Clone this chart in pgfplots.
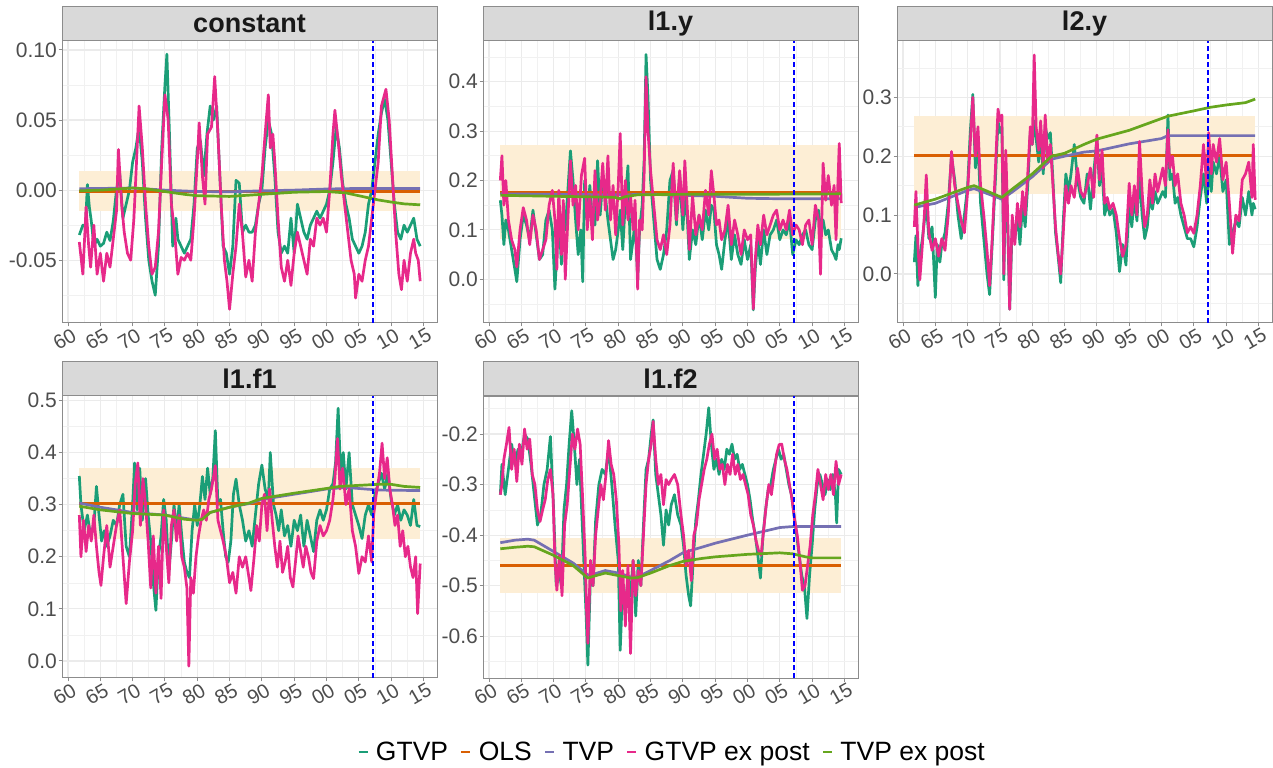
\documentclass[border=0pt]{standalone}
\usepackage{pgfplots}
\pgfplotsset{compat=1.18}
\usepackage{fontspec}
\setmainfont{Liberation Sans}
\definecolor{cG}{HTML}{1B9E77}
\definecolor{cO}{HTML}{D95F02}
\definecolor{cT}{HTML}{7570B3}
\definecolor{cP}{HTML}{E7298A}
\definecolor{cE}{HTML}{66A61E}
\definecolor{bandc}{HTML}{FDEED5}
\definecolor{gridc}{HTML}{EBEBEB}
\definecolor{borderc}{HTML}{8C8C8C}
\definecolor{ticklab}{HTML}{4D4D4D}
\definecolor{stripc}{HTML}{D9D9D9}
\pgfplotsset{
  facet/.style={
    scale only axis, width=375bp, height=282bp,
    xmin=1959.07, xmax=2017.1,
    xtick={1960,1965,1970,1975,1980,1985,1990,1995,2000,2005,2010,2015},
    xticklabels={60,65,70,75,80,85,90,95,00,05,10,15},
    minor xtick={1962.5,1967.5,1972.5,1977.5,1982.5,1987.5,1992.5,1997.5,2002.5,2007.5,2012.5},
    grid=both,
    major grid style={draw=gridc, line width=1.1bp},
    minor grid style={draw=gridc!70, line width=0.6bp},
    axis line style={draw=borderc, line width=1bp},
    major tick style={draw=borderc, line width=1bp},
    major tick length=3.5bp, minor tick length=0pt,
    tick align=outside, tick pos=left,
    tick label style={font=\fontsize{21bp}{24bp}\selectfont, text=ticklab},
    xticklabel style={font=\fontsize{20bp}{22bp}\selectfont, rotate=30, anchor=north east, inner sep=0pt, xshift=2bp, yshift=-2bp},
    yticklabel style={inner sep=1.5bp},
    no markers,
    every axis plot/.append style={line width=2.7bp, line join=round},
  },
  vline/.style={blue, line width=2.1bp, dash pattern=on 5bp off 3bp, forget plot},
  bandst/.style={draw=none, fill=bandc, forget plot},
}
\newcommand{\strip}[2]{%
  \draw[borderc, fill=stripc, line width=1bp] (#1.north west) rectangle ([yshift=34bp]#1.north east);
  \node[font=\bfseries\fontsize{27bp}{30bp}\selectfont, text=black!90] at ([yshift=17bp]#1.north) {#2};
}
\begin{document}
\begin{tikzpicture}
\path[use as bounding box] (0,0) rectangle (1273bp,768bp);

% ---------------- constant
\begin{axis}[facet, name=p1, at={(62bp,445bp)}, anchor=south west,
  ymin=-0.0948, ymax=0.1064,
  ytick={-0.05,0,0.05,0.1}, yticklabels={-0.05,0.00,0.05,0.10},
  minor ytick={-0.075,-0.025,0.025,0.075}]
\addplot[bandst] coordinates {(1961.75,-0.0149) (2014.5,-0.0149) (2014.5,0.0133) (1961.75,0.0133)} -- cycle;
\addplot[cG] coordinates {(1961.75,-0.032)(1962.3,-0.025)(1962.7,-0.026)(1963,0.004)(1963.3,-0.012)(1963.6,-0.022)(1964,-0.04)(1964.5,-0.035)(1965,-0.04)(1965.5,-0.038)(1966,-0.03)(1966.5,-0.036)(1967,-0.022)(1967.5,0.0)(1968,0.012)(1968.5,-0.02)(1969,-0.01)(1969.5,0.0)(1970,0.02)(1970.5,0.03)(1971,0.045)(1971.5,0.02)(1972,-0.02)(1972.5,-0.05)(1973,-0.065)(1973.5,-0.075)(1974,-0.04)(1974.5,0.03)(1975,0.075)(1975.3,0.097)(1975.7,0.04)(1976.2,-0.04)(1976.7,-0.02)(1977,-0.035)(1977.5,-0.04)(1978,-0.045)(1978.5,-0.04)(1979,-0.035)(1979.5,-0.01)(1980,0.03)(1980.5,0.035)(1981,0.01)(1981.5,0.04)(1982,0.06)(1982.5,0.05)(1983,0.06)(1983.5,0.01)(1984,-0.04)(1984.5,-0.045)(1985,-0.06)(1985.5,-0.04)(1986,0.007)(1986.5,0.005)(1987,-0.03)(1987.5,-0.025)(1988,-0.03)(1988.5,-0.03)(1989,-0.025)(1989.5,-0.01)(1990,0.0)(1990.5,0.03)(1991,0.05)(1991.5,0.04)(1992,0.01)(1992.5,-0.03)(1993,-0.045)(1993.5,-0.04)(1994,-0.045)(1994.5,-0.02)(1995,-0.045)(1995.5,-0.01)(1996,-0.02)(1996.5,-0.03)(1997,-0.035)(1997.5,-0.025)(1998,-0.02)(1998.5,-0.015)(1999,-0.02)(1999.5,-0.015)(2000,-0.01)(2000.5,0.0)(2001,0.02)(2001.5,0.045)(2002,0.03)(2002.5,0.005)(2003,-0.01)(2003.5,-0.02)(2004,-0.035)(2004.5,-0.04)(2005,-0.045)(2005.5,-0.04)(2006,-0.03)(2006.5,-0.01)(2007,0.0)(2007.5,0.02)(2008,0.04)(2008.5,0.055)(2009,0.065)(2009.5,0.05)(2010,0.02)(2010.5,-0.01)(2011,-0.03)(2011.5,-0.035)(2012,-0.025)(2012.5,-0.03)(2013,-0.025)(2013.5,-0.02)(2014,-0.035)(2014.5,-0.04)};
\addplot[cO] coordinates {(1961.75,-0.0012)(2014.5,-0.0012)};
\addplot[cT] coordinates {(1961.75,0.001)(1970,0.0015)(1975,0.0)(1980,-0.001)(1985,-0.0012)(1990,-0.0005)(1995,0.0)(2000,0.0008)(2005,0.0012)(2010,0.0012)(2014.5,0.0012)};
\addplot[cP] coordinates {(1961.75,-0.037)(1962.3,-0.06)(1962.8,-0.012)(1963.2,-0.04)(1963.5,-0.055)(1964,-0.025)(1964.5,-0.06)(1965,-0.045)(1965.5,-0.065)(1966,-0.045)(1966.5,-0.055)(1967,-0.035)(1967.5,-0.015)(1967.8,0.029)(1968.3,-0.01)(1968.7,-0.03)(1969.2,-0.045)(1969.7,-0.05)(1970.2,-0.02)(1970.5,0.01)(1971,0.06)(1971.5,0.03)(1972,-0.01)(1972.5,-0.04)(1973,-0.06)(1973.5,-0.055)(1974,-0.03)(1974.5,0.02)(1975,0.068)(1975.5,0.05)(1976,-0.01)(1976.5,-0.03)(1977,-0.06)(1977.5,-0.048)(1978,-0.05)(1978.5,-0.045)(1979,-0.05)(1979.5,-0.02)(1980,0.02)(1980.3,0.048)(1980.8,0.01)(1981.2,-0.01)(1981.6,0.04)(1982.2,0.045)(1982.7,0.081)(1983.2,0.04)(1983.7,-0.01)(1984.2,-0.05)(1984.6,-0.065)(1985,-0.085)(1985.5,-0.06)(1986,-0.04)(1986.5,-0.01)(1987,-0.031)(1987.5,-0.062)(1988,-0.05)(1988.5,-0.065)(1989,-0.03)(1989.5,-0.01)(1990,0.01)(1990.5,0.04)(1991,0.068)(1991.3,0.03)(1991.7,0.04)(1992,0.02)(1992.5,-0.02)(1993,-0.055)(1993.5,-0.065)(1994,-0.05)(1994.5,-0.068)(1995,-0.045)(1995.5,-0.03)(1996,-0.04)(1996.5,-0.05)(1997,-0.06)(1997.5,-0.035)(1998,-0.04)(1998.5,-0.02)(1999,-0.025)(1999.5,-0.02)(2000,-0.03)(2000.5,0.0)(2001,0.04)(2001.3,0.057)(2001.8,0.035)(2002.3,0.01)(2002.8,-0.01)(2003.3,-0.03)(2003.8,-0.05)(2004.3,-0.06)(2004.5,-0.077)(2005,-0.06)(2005.5,-0.065)(2006,-0.05)(2006.5,-0.04)(2007,-0.02)(2007.5,0.0)(2008,0.02)(2008.5,0.06)(2009.2,0.072)(2009.7,0.05)(2010.2,0.01)(2010.7,-0.03)(2011.2,-0.06)(2011.6,-0.071)(2012,-0.05)(2012.5,-0.065)(2013,-0.045)(2013.5,-0.035)(2013.8,-0.045)(2014.2,-0.05)(2014.5,-0.065)};
\addplot[cE] coordinates {(1961.75,-0.0005)(1965,0.0)(1970,0.0015)(1972,0.001)(1975,-0.001)(1978,-0.003)(1980,-0.004)(1985,-0.0045)(1990,-0.003)(1995,-0.0015)(2000,-0.001)(2003,-0.002)(2006,-0.005)(2008,-0.007)(2010,-0.0085)(2012,-0.0098)(2014.5,-0.0105)};
\addplot[vline] coordinates {(2007.25,-0.0948)(2007.25,0.1064)};
\end{axis}
\strip{p1}{constant}

% ---------------- l1.y
\begin{axis}[facet, name=p2, at={(483bp,445bp)}, anchor=south west,
  ymin=-0.0885, ymax=0.4824,
  ytick={0,0.1,0.2,0.3,0.4}, yticklabels={0.0,0.1,0.2,0.3,0.4},
  minor ytick={-0.05,0.05,0.15,0.25,0.35,0.45}]
\addplot[bandst] coordinates {(1961.75,0.081) (2014.5,0.081) (2014.5,0.272) (1961.75,0.272)} -- cycle;
\addplot[cG] coordinates {(1961.75,0.16)(1962,0.13)(1962.3,0.07)(1962.6,0.12)(1963,0.10)(1963.5,0.06)(1964,0.02)(1964.3,-0.005)(1964.8,0.08)(1965.3,0.13)(1965.8,0.11)(1966.3,0.08)(1966.8,0.14)(1967.3,0.09)(1967.8,0.04)(1968.3,0.05)(1968.8,0.12)(1969.3,0.14)(1969.8,0.10)(1970.2,-0.02)(1970.5,0.05)(1970.8,0.13)(1971.2,0.03)(1971.5,0.13)(1971.8,0.10)(1972.2,0.18)(1972.6,0.26)(1973,0.20)(1973.4,0.12)(1973.8,0.05)(1974.2,0.10)(1974.5,-0.005)(1974.8,0.20)(1975.2,0.12)(1975.6,0.19)(1976,0.12)(1976.4,0.11)(1976.8,0.24)(1977.2,0.13)(1977.6,0.20)(1978,0.17)(1978.4,0.12)(1978.8,0.08)(1979.2,0.04)(1979.6,0.06)(1980,0.10)(1980.3,0.14)(1980.7,0.06)(1981.1,0.16)(1981.5,0.23)(1981.9,0.04)(1982.3,0.08)(1982.6,0.12)(1983,0.0)(1983.3,0.10)(1983.7,0.15)(1984,0.24)(1984.3,0.455)(1984.6,0.37)(1985,0.20)(1985.5,0.12)(1986,0.04)(1986.5,0.02)(1987,0.05)(1987.5,0.10)(1988,0.20)(1988.5,0.22)(1989,0.11)(1989.5,0.21)(1990,0.10)(1990.3,0.17)(1990.7,0.12)(1991,0.04)(1991.5,0.10)(1992,0.07)(1992.5,0.13)(1993,0.08)(1993.5,0.14)(1994,0.10)(1994.4,0.15)(1994.8,0.14)(1995.2,0.07)(1995.6,0.05)(1996,0.02)(1996.5,0.08)(1997,0.12)(1997.5,0.04)(1998,0.09)(1998.5,0.05)(1999,0.03)(1999.5,0.08)(2000,0.04)(2000.5,0.07)(2000.9,-0.062)(2001.2,0.02)(2001.6,0.08)(2002,0.03)(2002.5,0.10)(2003,0.05)(2003.5,0.09)(2004,0.10)(2004.5,0.12)(2005,0.08)(2005.5,0.10)(2006,0.09)(2006.5,0.12)(2007,0.05)(2007.5,0.08)(2008,0.07)(2008.5,0.09)(2009,0.10)(2009.5,0.07)(2010,0.06)(2010.5,0.12)(2011,0.14)(2011.3,0.10)(2011.7,0.12)(2012.1,0.09)(2012.5,0.10)(2013,0.06)(2013.4,0.05)(2013.7,0.04)(2014,0.07)(2014.2,0.06)(2014.5,0.083)};
\addplot[cO] coordinates {(1961.75,0.176)(2014.5,0.176)};
\addplot[cT] coordinates {(1961.75,0.173)(1970,0.172)(1980,0.171)(1985,0.172)(1990,0.170)(1995,0.168)(2000,0.164)(2005,0.163)(2014.5,0.163)};
\addplot[cP] coordinates {(1961.75,0.20)(1962,0.25)(1962.3,0.15)(1962.6,0.20)(1963,0.12)(1963.5,0.08)(1964,0.06)(1964.3,0.025)(1964.8,0.10)(1965.3,0.145)(1965.8,0.12)(1966.3,0.07)(1966.8,0.13)(1967.3,0.10)(1967.8,0.04)(1968.3,0.06)(1968.8,0.08)(1969.3,0.15)(1969.8,0.18)(1970.2,0.12)(1970.5,0.02)(1970.8,0.18)(1971.2,0.05)(1971.5,0.16)(1971.8,0.0)(1972.2,0.12)(1972.6,0.24)(1973,0.15)(1973.4,0.19)(1973.8,0.10)(1974.3,0.21)(1974.8,0.245)(1975.2,0.10)(1975.6,0.17)(1976,0.08)(1976.4,0.22)(1976.8,0.12)(1977.2,0.16)(1977.6,0.235)(1978,0.14)(1978.4,0.25)(1978.8,0.12)(1979.2,0.19)(1979.6,0.09)(1980,0.19)(1980.3,0.295)(1980.7,0.11)(1981.1,0.20)(1981.5,0.12)(1981.9,0.17)(1982.3,0.10)(1982.6,0.16)(1983,-0.02)(1983.3,0.12)(1983.7,0.10)(1984,0.21)(1984.3,0.41)(1984.6,0.30)(1985,0.22)(1985.5,0.15)(1986,0.08)(1986.5,0.06)(1987,0.09)(1987.5,0.05)(1988,0.11)(1988.5,0.235)(1989,0.12)(1989.5,0.22)(1990,0.13)(1990.3,0.24)(1990.7,0.14)(1991,0.06)(1991.5,0.17)(1992,0.09)(1992.5,0.13)(1993,0.10)(1993.5,0.18)(1994,0.13)(1994.4,0.22)(1994.8,0.17)(1995.2,0.11)(1995.6,0.12)(1996,0.08)(1996.5,0.10)(1997,0.15)(1997.5,0.07)(1998,0.12)(1998.5,0.09)(1999,0.05)(1999.5,0.10)(2000,0.08)(2000.5,0.09)(2000.9,-0.06)(2001.2,0.04)(2001.6,0.11)(2002,0.07)(2002.5,0.13)(2003,0.09)(2003.5,0.11)(2004,0.13)(2004.5,0.14)(2005,0.10)(2005.5,0.12)(2006,0.10)(2006.5,0.14)(2007,0.09)(2007.5,0.11)(2008,0.10)(2008.5,0.07)(2009,0.11)(2009.5,0.12)(2010,0.07)(2010.5,0.15)(2011,0.12)(2011.3,0.01)(2011.7,0.235)(2012.1,0.16)(2012.5,0.21)(2013,0.15)(2013.4,0.19)(2013.7,0.08)(2014,0.20)(2014.2,0.275)(2014.5,0.154)};
\addplot[cE] coordinates {(1961.75,0.170)(1970,0.168)(1975,0.167)(1979.5,0.166)(1980.2,0.163)(1981,0.167)(1983,0.171)(1990,0.172)(2000,0.172)(2014.5,0.173)};
\addplot[vline] coordinates {(2007.25,-0.0885)(2007.25,0.4824)};
\end{axis}
\strip{p2}{l1.y}

% ---------------- l2.y
\begin{axis}[facet, name=p3, at={(897bp,445bp)}, anchor=south west,
  ymin=-0.0833, ymax=0.3957,
  ytick={0,0.1,0.2,0.3}, yticklabels={0.0,0.1,0.2,0.3},
  minor ytick={-0.05,0.05,0.15,0.25,0.35}]
\addplot[bandst] coordinates {(1961.75,0.135) (2014.5,0.135) (2014.5,0.268) (1961.75,0.268)} -- cycle;
\addplot[cG] coordinates {(1961.75,0.02)(1962,0.065)(1962.3,-0.02)(1962.6,0.03)(1963,0.06)(1963.3,0.09)(1963.6,0.12)(1964,0.06)(1964.5,0.08)(1965,-0.04)(1965.3,0.05)(1965.7,0.02)(1966,0.05)(1966.5,0.07)(1967,0.12)(1967.5,0.20)(1968,0.16)(1968.5,0.10)(1969,0.06)(1969.5,0.10)(1970,0.15)(1970.4,0.24)(1970.8,0.305)(1971.2,0.18)(1971.6,0.22)(1972,0.12)(1972.5,0.06)(1973,0.0)(1973.4,-0.035)(1973.8,0.05)(1974.3,0.16)(1974.7,0.26)(1975,0.24)(1975.3,0.25)(1975.6,-0.01)(1975.9,0.18)(1976.2,0.08)(1976.5,-0.06)(1976.9,0.08)(1977.3,0.06)(1977.7,0.10)(1978.1,0.05)(1978.5,0.12)(1978.9,0.08)(1979.3,0.15)(1979.7,0.24)(1980,0.22)(1980.3,0.26)(1980.6,0.23)(1981,0.19)(1981.3,0.24)(1981.7,0.17)(1982,0.25)(1982.4,0.23)(1982.8,0.24)(1983.2,0.16)(1983.6,0.07)(1984,0.03)(1984.4,-0.015)(1984.8,0.09)(1985.2,0.17)(1985.6,0.14)(1986,0.17)(1986.5,0.22)(1987,0.16)(1987.5,0.13)(1988,0.12)(1988.5,0.17)(1989,0.11)(1989.5,0.17)(1990,0.23)(1990.4,0.15)(1990.8,0.18)(1991.2,0.10)(1991.6,0.12)(1992,0.10)(1992.5,0.11)(1993,0.07)(1993.5,0.004)(1994,0.05)(1994.5,0.015)(1995,0.12)(1995.4,0.08)(1995.8,0.13)(1996.2,0.09)(1996.6,0.17)(1997,0.10)(1997.4,0.06)(1997.8,0.08)(1998.2,0.13)(1998.6,0.11)(1999,0.14)(1999.4,0.12)(1999.8,0.13)(2000.2,0.14)(2000.6,0.13)(2001,0.27)(2001.3,0.16)(2001.7,0.17)(2002.1,0.12)(2002.5,0.13)(2003,0.10)(2003.5,0.08)(2004,0.06)(2004.5,0.06)(2005,0.046)(2005.5,0.08)(2006,0.13)(2006.5,0.17)(2007,0.12)(2007.3,0.18)(2007.7,0.14)(2008,0.19)(2008.5,0.17)(2009,0.20)(2009.5,0.14)(2010,0.16)(2010.5,0.05)(2011,0.07)(2011.5,0.09)(2012,0.08)(2012.5,0.13)(2013,0.10)(2013.5,0.14)(2014,0.10)(2014.2,0.12)(2014.5,0.11)};
\addplot[cO] coordinates {(1961.75,0.201)(2014.5,0.201)};
\addplot[cT] coordinates {(1961.75,0.113)(1965,0.12)(1970,0.142)(1971,0.145)(1975.3,0.127)(1977,0.14)(1980,0.165)(1983,0.195)(1985,0.20)(1988,0.207)(1990,0.209)(1995,0.221)(2000,0.23)(2001,0.235)(2005,0.235)(2014.5,0.235)};
\addplot[cP] coordinates {(1961.75,0.08)(1962,0.14)(1962.3,0.05)(1962.6,-0.01)(1963,0.05)(1963.3,0.10)(1963.6,0.168)(1964,0.07)(1964.5,0.04)(1965,0.06)(1965.5,0.03)(1966,0.06)(1966.5,0.04)(1967,0.10)(1967.5,0.208)(1968,0.15)(1968.5,0.12)(1969,0.09)(1969.5,0.07)(1970,0.14)(1970.4,0.22)(1970.8,0.30)(1971.2,0.20)(1971.6,0.25)(1972,0.15)(1972.5,0.10)(1973,0.04)(1973.4,-0.02)(1973.8,0.06)(1974.3,0.18)(1974.7,0.28)(1975,0.26)(1975.3,0.27)(1975.6,0.0)(1975.9,0.21)(1976.2,0.10)(1976.5,-0.06)(1976.9,0.10)(1977.3,0.05)(1977.7,0.12)(1978.1,0.08)(1978.5,0.14)(1978.9,0.10)(1979.3,0.17)(1979.7,0.25)(1980,0.22)(1980.3,0.372)(1980.6,0.25)(1981,0.21)(1981.3,0.26)(1981.7,0.18)(1982,0.27)(1982.4,0.19)(1982.8,0.22)(1983.2,0.15)(1983.6,0.08)(1984,0.035)(1984.4,0.0)(1984.8,0.07)(1985.2,0.15)(1985.6,0.12)(1986,0.15)(1986.5,0.13)(1987,0.18)(1987.5,0.14)(1988,0.13)(1988.5,0.15)(1989,0.18)(1989.5,0.13)(1990,0.236)(1990.4,0.16)(1990.8,0.21)(1991.2,0.12)(1991.6,0.13)(1992,0.11)(1992.5,0.12)(1993,0.10)(1993.5,0.06)(1994,0.03)(1994.5,0.05)(1995,0.154)(1995.4,0.10)(1995.8,0.15)(1996.2,0.10)(1996.6,0.225)(1997,0.14)(1997.4,0.08)(1997.8,0.10)(1998.2,0.16)(1998.6,0.12)(1999,0.17)(1999.4,0.14)(1999.8,0.16)(2000.2,0.18)(2000.6,0.15)(2001,0.245)(2001.3,0.18)(2001.7,0.20)(2002.1,0.15)(2002.5,0.17)(2003,0.12)(2003.5,0.10)(2004,0.07)(2004.5,0.08)(2005,0.069)(2005.5,0.10)(2006,0.15)(2006.5,0.22)(2007,0.15)(2007.3,0.24)(2007.7,0.17)(2008,0.22)(2008.5,0.19)(2009,0.23)(2009.5,0.16)(2010,0.19)(2010.5,0.12)(2011,0.035)(2011.5,0.10)(2012,0.09)(2012.5,0.16)(2013,0.17)(2013.5,0.19)(2014,0.13)(2014.2,0.22)(2014.5,0.126)};
\addplot[cE] coordinates {(1961.75,0.117)(1965,0.127)(1970,0.147)(1971,0.15)(1975.3,0.13)(1977,0.145)(1980,0.17)(1983,0.20)(1985,0.205)(1988,0.22)(1990,0.229)(1995,0.244)(2000,0.264)(2001,0.268)(2005,0.277)(2007.5,0.283)(2010,0.287)(2013,0.291)(2014.5,0.297)};
\addplot[vline] coordinates {(2007.25,-0.0833)(2007.25,0.3957)};
\end{axis}
\strip{p3}{l2.y}

% ---------------- l1.f1
\begin{axis}[facet, name=p4, at={(62bp,90bp)}, anchor=south west,
  ymin=-0.0327, ymax=0.5085,
  ytick={0,0.1,0.2,0.3,0.4,0.5}, yticklabels={0.0,0.1,0.2,0.3,0.4,0.5},
  minor ytick={0.05,0.15,0.25,0.35,0.45}]
\addplot[bandst] coordinates {(1961.75,0.235) (2014.5,0.235) (2014.5,0.37) (1961.75,0.37)} -- cycle;
\addplot[cG] coordinates {(1961.75,0.355)(1962,0.30)(1962.5,0.25)(1963,0.28)(1963.5,0.24)(1964,0.26)(1964.4,0.335)(1964.8,0.28)(1965.2,0.23)(1965.6,0.25)(1966,0.22)(1966.5,0.24)(1967,0.27)(1967.5,0.26)(1968,0.30)(1968.5,0.32)(1969,0.22)(1969.5,0.20)(1970,0.30)(1970.3,0.38)(1970.7,0.29)(1971.1,0.37)(1971.5,0.27)(1972,0.35)(1972.4,0.28)(1972.8,0.23)(1973.2,0.15)(1973.6,0.097)(1974,0.20)(1974.4,0.24)(1974.8,0.31)(1975.2,0.27)(1975.6,0.17)(1976,0.23)(1976.4,0.30)(1976.8,0.25)(1977.2,0.30)(1977.6,0.24)(1978,0.19)(1978.4,0.17)(1978.8,0.16)(1979.2,0.25)(1979.6,0.30)(1980,0.26)(1980.4,0.30)(1980.8,0.354)(1981.2,0.31)(1981.6,0.37)(1982,0.32)(1982.4,0.35)(1982.8,0.442)(1983.2,0.30)(1983.6,0.31)(1984,0.25)(1984.4,0.20)(1984.8,0.19)(1985.2,0.23)(1985.6,0.32)(1986,0.349)(1986.5,0.30)(1987,0.27)(1987.5,0.23)(1988,0.25)(1988.5,0.22)(1989,0.28)(1989.5,0.34)(1990,0.376)(1990.5,0.33)(1991,0.31)(1991.3,0.40)(1991.8,0.30)(1992.2,0.28)(1992.6,0.25)(1993,0.29)(1993.5,0.24)(1994,0.26)(1994.5,0.22)(1995,0.27)(1995.5,0.25)(1996,0.28)(1996.5,0.22)(1997,0.27)(1997.5,0.24)(1998,0.21)(1998.5,0.27)(1999,0.29)(1999.5,0.27)(2000,0.29)(2000.5,0.33)(2001,0.34)(2001.4,0.38)(2001.8,0.485)(2002.2,0.36)(2002.6,0.40)(2003,0.33)(2003.5,0.40)(2004,0.30)(2004.5,0.28)(2005,0.26)(2005.5,0.235)(2006,0.28)(2006.5,0.30)(2007,0.28)(2007.5,0.32)(2008,0.34)(2008.5,0.36)(2009,0.33)(2009.5,0.36)(2010,0.31)(2010.5,0.28)(2011,0.30)(2011.5,0.27)(2012,0.29)(2012.5,0.28)(2013,0.26)(2013.5,0.31)(2014,0.26)(2014.5,0.258)};
\addplot[cO] coordinates {(1961.75,0.302)(2014.5,0.302)};
\addplot[cT] coordinates {(1961.75,0.303)(1965,0.295)(1970,0.285)(1975,0.28)(1978,0.274)(1980,0.27)(1980.8,0.272)(1982,0.285)(1985,0.295)(1988,0.302)(1990,0.31)(1995,0.32)(2000,0.33)(2003,0.333)(2006,0.33)(2008,0.328)(2014.5,0.327)};
\addplot[cP] coordinates {(1961.75,0.28)(1962,0.20)(1962.4,0.27)(1962.8,0.21)(1963.2,0.26)(1963.6,0.23)(1964,0.28)(1964.4,0.22)(1964.8,0.17)(1965.1,0.145)(1965.5,0.20)(1966,0.26)(1966.5,0.18)(1967,0.22)(1967.5,0.26)(1968,0.29)(1968.5,0.20)(1969,0.11)(1969.5,0.19)(1970,0.25)(1970.4,0.34)(1970.8,0.38)(1971.2,0.26)(1971.6,0.35)(1972,0.30)(1972.4,0.23)(1972.8,0.14)(1973.2,0.24)(1973.6,0.13)(1974,0.22)(1974.4,0.12)(1974.8,0.29)(1975.2,0.22)(1975.6,0.15)(1976,0.26)(1976.4,0.29)(1976.8,0.23)(1977.2,0.28)(1977.6,0.20)(1978,0.18)(1978.4,0.14)(1978.7,-0.01)(1979,0.16)(1979.4,0.13)(1979.8,0.20)(1980.2,0.24)(1980.6,0.27)(1981,0.29)(1981.4,0.27)(1981.8,0.31)(1982.2,0.33)(1982.8,0.375)(1983.2,0.27)(1983.6,0.25)(1984,0.23)(1984.5,0.20)(1985,0.15)(1985.5,0.17)(1986,0.13)(1986.5,0.20)(1987,0.18)(1987.5,0.20)(1988,0.16)(1988.3,0.135)(1988.8,0.20)(1989.2,0.26)(1989.6,0.23)(1990,0.30)(1990.4,0.32)(1990.8,0.25)(1991.2,0.33)(1991.6,0.27)(1992,0.22)(1992.4,0.18)(1992.8,0.23)(1993.2,0.17)(1993.6,0.19)(1994,0.22)(1994.4,0.16)(1994.8,0.142)(1995.2,0.19)(1995.6,0.24)(1996,0.21)(1996.4,0.18)(1996.8,0.22)(1997.2,0.20)(1997.6,0.17)(1998,0.158)(1998.5,0.23)(1999,0.26)(1999.5,0.24)(2000,0.25)(2000.5,0.27)(2001,0.31)(2001.3,0.35)(2001.7,0.427)(2002.1,0.33)(2002.5,0.37)(2003,0.30)(2003.5,0.33)(2004,0.25)(2004.5,0.22)(2005,0.168)(2005.5,0.20)(2006,0.19)(2006.5,0.24)(2007,0.19)(2007.3,0.28)(2007.7,0.32)(2008.2,0.36)(2008.6,0.418)(2009,0.35)(2009.4,0.39)(2009.8,0.33)(2010.2,0.30)(2010.6,0.26)(2011,0.28)(2011.4,0.22)(2011.8,0.25)(2012.2,0.20)(2012.6,0.22)(2013,0.18)(2013.4,0.16)(2013.8,0.20)(2014.1,0.091)(2014.5,0.187)};
\addplot[cE] coordinates {(1961.75,0.297)(1965,0.29)(1970,0.283)(1975,0.28)(1978,0.272)(1980,0.27)(1980.8,0.272)(1982,0.285)(1985,0.295)(1988,0.303)(1990,0.312)(1995,0.322)(2000,0.331)(2002,0.335)(2005,0.337)(2008,0.339)(2010,0.339)(2012,0.335)(2014.5,0.333)};
\addplot[vline] coordinates {(2007.25,-0.0327)(2007.25,0.5085)};
\end{axis}
\strip{p4}{l1.f1}

% ---------------- l1.f2
\begin{axis}[facet, name=p5, at={(483bp,90bp)}, anchor=south west,
  ymin=-0.6826, ymax=-0.1248,
  ytick={-0.6,-0.5,-0.4,-0.3,-0.2}, yticklabels={-0.6,-0.5,-0.4,-0.3,-0.2},
  minor ytick={-0.65,-0.55,-0.45,-0.35,-0.25,-0.15},
  legend style={legend columns=5, draw=none, fill=none,
    font=\fontsize{26.5bp}{30bp}\selectfont, text=black,
    at={(axis description cs:0.504,-0.262)}, anchor=center,
    /tikz/every odd column/.append style={column sep=5bp},
    /tikz/every even column/.append style={column sep=10bp}},
  legend image code/.code={\draw[#1, line width=2.7bp] (0bp,0bp) -- (9bp,0bp);}]
\addplot[bandst] coordinates {(1961.75,-0.515) (2014.5,-0.515) (2014.5,-0.405) (1961.75,-0.405)} -- cycle;
\addplot[cG] coordinates {(1961.75,-0.32)(1962,-0.26)(1962.5,-0.32)(1963,-0.27)(1963.5,-0.22)(1964,-0.26)(1964.5,-0.23)(1965,-0.24)(1965.5,-0.20)(1966,-0.21)(1966.5,-0.26)(1967,-0.32)(1967.5,-0.38)(1968,-0.36)(1968.5,-0.30)(1969,-0.27)(1969.5,-0.205)(1970,-0.35)(1970.4,-0.50)(1970.8,-0.47)(1971.2,-0.50)(1971.6,-0.35)(1972,-0.30)(1972.4,-0.22)(1972.8,-0.154)(1973.2,-0.22)(1973.6,-0.30)(1974,-0.25)(1974.5,-0.40)(1975,-0.55)(1975.3,-0.657)(1975.7,-0.48)(1976.1,-0.50)(1976.5,-0.37)(1977,-0.30)(1977.5,-0.27)(1978,-0.28)(1978.5,-0.23)(1979,-0.30)(1979.5,-0.38)(1980,-0.45)(1980.3,-0.628)(1980.7,-0.50)(1981.1,-0.55)(1981.5,-0.48)(1981.9,-0.52)(1982.3,-0.45)(1982.7,-0.56)(1983.1,-0.45)(1983.5,-0.50)(1983.9,-0.38)(1984.3,-0.27)(1984.7,-0.25)(1985.1,-0.20)(1985.4,-0.172)(1985.8,-0.28)(1986.2,-0.32)(1986.6,-0.36)(1987,-0.42)(1987.4,-0.35)(1987.8,-0.38)(1988.2,-0.34)(1988.7,-0.32)(1989.2,-0.36)(1989.7,-0.38)(1990.1,-0.42)(1990.5,-0.48)(1990.9,-0.52)(1991.2,-0.54)(1991.6,-0.45)(1992,-0.37)(1992.4,-0.33)(1992.8,-0.28)(1993.2,-0.24)(1993.6,-0.20)(1994,-0.148)(1994.4,-0.22)(1994.8,-0.27)(1995.2,-0.25)(1995.6,-0.28)(1996,-0.25)(1996.4,-0.27)(1996.8,-0.23)(1997.2,-0.24)(1997.6,-0.22)(1998,-0.25)(1998.4,-0.24)(1998.8,-0.27)(1999.2,-0.26)(1999.6,-0.28)(2000,-0.30)(2000.4,-0.33)(2000.8,-0.37)(2001.2,-0.40)(2001.6,-0.44)(2002,-0.485)(2002.4,-0.40)(2002.8,-0.35)(2003.2,-0.31)(2003.6,-0.30)(2004,-0.27)(2004.4,-0.25)(2004.8,-0.23)(2005.2,-0.25)(2005.6,-0.24)(2006,-0.27)(2006.4,-0.30)(2006.8,-0.32)(2007.2,-0.36)(2007.6,-0.40)(2008,-0.44)(2008.4,-0.48)(2008.8,-0.50)(2009.2,-0.565)(2009.6,-0.48)(2010,-0.42)(2010.4,-0.35)(2010.8,-0.30)(2011.2,-0.28)(2011.6,-0.30)(2012,-0.32)(2012.4,-0.29)(2012.8,-0.31)(2013.2,-0.28)(2013.6,-0.32)(2013.8,-0.376)(2014.1,-0.27)(2014.5,-0.28)};
\addlegendentry{GTVP}
\addplot[cO] coordinates {(1961.75,-0.46)(2014.5,-0.46)};
\addlegendentry{OLS}
\addplot[cT] coordinates {(1961.75,-0.415)(1964,-0.41)(1966,-0.408)(1967,-0.41)(1969,-0.425)(1971,-0.44)(1973,-0.455)(1975.3,-0.479)(1976,-0.478)(1978,-0.47)(1980,-0.475)(1982,-0.483)(1983,-0.483)(1985,-0.47)(1988,-0.45)(1990,-0.435)(1995,-0.416)(2000,-0.40)(2005,-0.385)(2007,-0.383)(2014.5,-0.383)};
\addlegendentry{TVP}
\addplot[cP] coordinates {(1961.75,-0.32)(1962,-0.30)(1962.3,-0.25)(1962.7,-0.22)(1963.1,-0.187)(1963.5,-0.27)(1963.9,-0.23)(1964.3,-0.294)(1964.7,-0.22)(1965.1,-0.26)(1965.5,-0.19)(1965.9,-0.23)(1966.3,-0.21)(1966.7,-0.28)(1967.1,-0.30)(1967.5,-0.35)(1967.9,-0.373)(1968.3,-0.35)(1968.7,-0.33)(1969.1,-0.29)(1969.5,-0.27)(1969.9,-0.32)(1970.2,-0.45)(1970.5,-0.509)(1970.9,-0.44)(1971.3,-0.52)(1971.7,-0.38)(1972.1,-0.34)(1972.5,-0.27)(1972.9,-0.20)(1973.3,-0.23)(1973.7,-0.19)(1974.1,-0.22)(1974.5,-0.33)(1974.9,-0.45)(1975.1,-0.55)(1975.3,-0.614)(1975.7,-0.45)(1976.1,-0.50)(1976.5,-0.40)(1976.9,-0.35)(1977.3,-0.30)(1977.7,-0.33)(1978.1,-0.28)(1978.5,-0.213)(1978.9,-0.26)(1979.3,-0.28)(1979.7,-0.33)(1980.1,-0.42)(1980.4,-0.55)(1980.7,-0.47)(1981.1,-0.58)(1981.5,-0.46)(1981.9,-0.634)(1982.3,-0.45)(1982.7,-0.52)(1983.1,-0.47)(1983.5,-0.50)(1983.9,-0.40)(1984.3,-0.30)(1984.7,-0.25)(1985.1,-0.22)(1985.4,-0.175)(1985.8,-0.25)(1986.2,-0.30)(1986.6,-0.28)(1987,-0.34)(1987.4,-0.29)(1987.8,-0.30)(1988.2,-0.29)(1988.7,-0.28)(1989.2,-0.30)(1989.7,-0.36)(1990.1,-0.40)(1990.5,-0.46)(1990.9,-0.43)(1991.3,-0.49)(1991.7,-0.40)(1992.1,-0.38)(1992.5,-0.33)(1992.9,-0.30)(1993.3,-0.27)(1993.7,-0.25)(1994.1,-0.22)(1994.5,-0.20)(1994.9,-0.25)(1995.3,-0.23)(1995.7,-0.27)(1996.1,-0.26)(1996.5,-0.30)(1996.9,-0.26)(1997.3,-0.28)(1997.7,-0.24)(1998.1,-0.28)(1998.5,-0.26)(1998.9,-0.29)(1999.3,-0.28)(1999.7,-0.30)(2000.1,-0.32)(2000.5,-0.36)(2000.9,-0.38)(2001.3,-0.41)(2001.7,-0.43)(2002.1,-0.44)(2002.5,-0.39)(2002.9,-0.34)(2003.3,-0.30)(2003.7,-0.32)(2004.1,-0.28)(2004.5,-0.24)(2004.9,-0.221)(2005.3,-0.22)(2005.7,-0.25)(2006.1,-0.27)(2006.5,-0.30)(2006.9,-0.33)(2007.3,-0.37)(2007.7,-0.40)(2008.1,-0.45)(2008.5,-0.509)(2008.9,-0.50)(2009.3,-0.46)(2009.7,-0.42)(2010.1,-0.36)(2010.5,-0.32)(2010.9,-0.27)(2011.3,-0.30)(2011.7,-0.33)(2012.1,-0.28)(2012.5,-0.31)(2012.9,-0.28)(2013.3,-0.32)(2013.7,-0.254)(2014.1,-0.30)(2014.5,-0.28)};
\addlegendentry{GTVP ex post}
\addplot[cE] coordinates {(1961.75,-0.427)(1964,-0.424)(1966,-0.422)(1967,-0.423)(1970,-0.44)(1973,-0.46)(1975.3,-0.485)(1976,-0.482)(1978,-0.475)(1980,-0.48)(1982,-0.485)(1983,-0.484)(1985,-0.475)(1988,-0.46)(1990,-0.452)(1993,-0.446)(1995,-0.443)(2000,-0.438)(2005,-0.435)(2007,-0.437)(2009,-0.443)(2010,-0.445)(2014.5,-0.445)};
\addlegendentry{TVP ex post}
\addplot[vline] coordinates {(2007.25,-0.6826)(2007.25,-0.1248)};
\end{axis}
\strip{p5}{l1.f2}
\end{tikzpicture}
\end{document}
